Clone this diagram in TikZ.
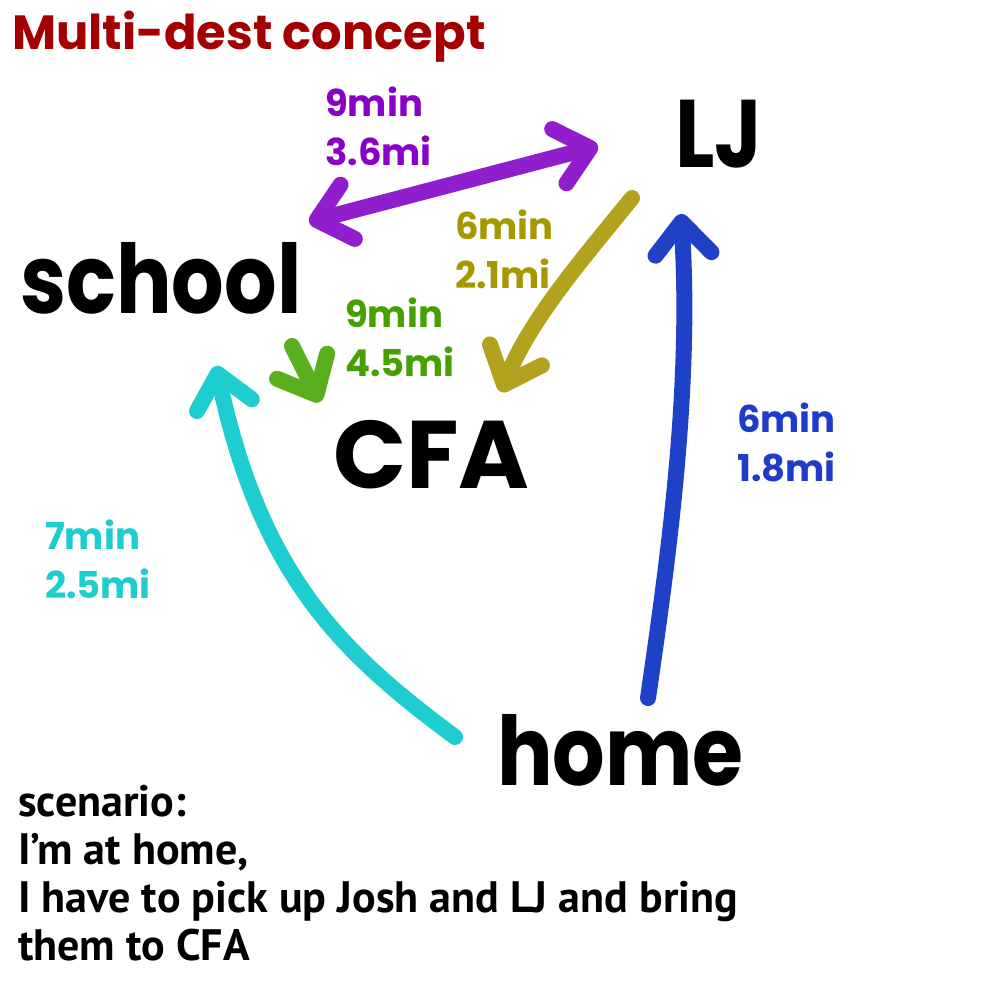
\documentclass[tikz,border=0pt]{standalone}
\usepackage{fontspec}
\setmainfont{Poppins}
\newfontfamily\notefont{PT Sans}
\usepackage{tikz}
\usetikzlibrary{arrows.meta}
\definecolor{TitleRed}{RGB}{165,0,0}
\definecolor{PurpleLine}{RGB}{145,30,205}
\definecolor{PurpleText}{RGB}{138,0,200}
\definecolor{OliveLine}{RGB}{178,162,30}
\definecolor{OliveText}{RGB}{168,152,0}
\definecolor{GreenLine}{RGB}{90,175,30}
\definecolor{GreenText}{RGB}{70,160,0}
\definecolor{CyanLine}{RGB}{30,205,208}
\definecolor{BlueLine}{RGB}{30,65,200}
\definecolor{BlueText}{RGB}{30,60,200}
\newcommand{\narrow}[1]{\scalebox{0.86}[1]{#1}}

\begin{document}
\begin{tikzpicture}[x=1pt, y=-1pt,
	place/.style={font=\bfseries\fontsize{96}{96}\selectfont, inner sep=0pt, anchor=base west},
	dist/.style={font=\bfseries\fontsize{37}{49}\selectfont, inner sep=0pt, anchor=base west, align=left},
	hand/.style={line width=16pt, line cap=round, line join=round},
	barb/.tip={Straight Barb[length=32pt, width=56pt, round]}]
		\fill[white] (0,0) rectangle (1000,1000);
		\useasboundingbox (0,0) rectangle (1000,1000);
		
		\node[anchor=base west, inner sep=0pt, text=TitleRed, font=\bfseries\fontsize{48}{48}\selectfont] (title) at (12,50) {Multi-dest concept};
		
		\node[place] (lj) at (675,168) {\narrow{LJ}};
		\node[place] (school) at (20,313) {\narrow{school}};
		\node[place] (cfa) at (333,488) {CFA};
		\node[place] (home) at (497,785) {\narrow{home}};
		
		% travel times (anchor on the second line)
		\node[dist, text=PurpleText] (d-school-lj) at (325,166) {9min\\3.6mi};
		\node[dist, text=OliveText] (d-lj-cfa) at (455,288) {6min\\2.1mi};
		\node[dist, text=GreenText] (d-school-cfa) at (345,376) {9min\\4.5mi};
		\node[dist, text=BlueText] (d-home-lj) at (737,481) {6min\\1.8mi};
		\node[dist, text=CyanLine] (d-home-school) at (45,598) {7min\\2.5mi};
		
		% arrow ends
		\coordinate (school-out) at (309,222);
		\coordinate (lj-in) at (598,146);
		\coordinate (lj-out) at (632,198);
		\coordinate (cfa-in-r) at (501,392);
		\coordinate (school-down) at (292,346);
		\coordinate (cfa-in-l) at (320,402);
		\coordinate (home-l) at (455,737);
		\coordinate (school-in) at (216,366);
		\coordinate (home-r) at (648,698);
		\coordinate (lj-in-b) at (681,214);
		
		\draw[hand, PurpleLine, barb-barb] (school-out) -- (lj-in);
		\draw[hand, OliveLine, -barb] (lj-out) .. controls (580,262) and (530,320) .. (cfa-in-r);
		\draw[hand, GreenLine, -barb] (school-down) -- (cfa-in-l);
		\draw[hand, CyanLine, -barb] (home-l) .. controls (345,655) and (262,580) .. (school-in);
		\draw[hand, BlueLine, -barb] (home-r) .. controls (668,560) and (692,390) .. (lj-in-b);
		
		\node[anchor=base west, inner sep=0pt, align=left, font=\notefont\bfseries\fontsize{44}{48}\selectfont] (scenario) at (18,960)
			{scenario:\\I’m at home,\\I have to pick up Josh and LJ and bring\\them to CFA};
	\end{tikzpicture}
\end{document}
